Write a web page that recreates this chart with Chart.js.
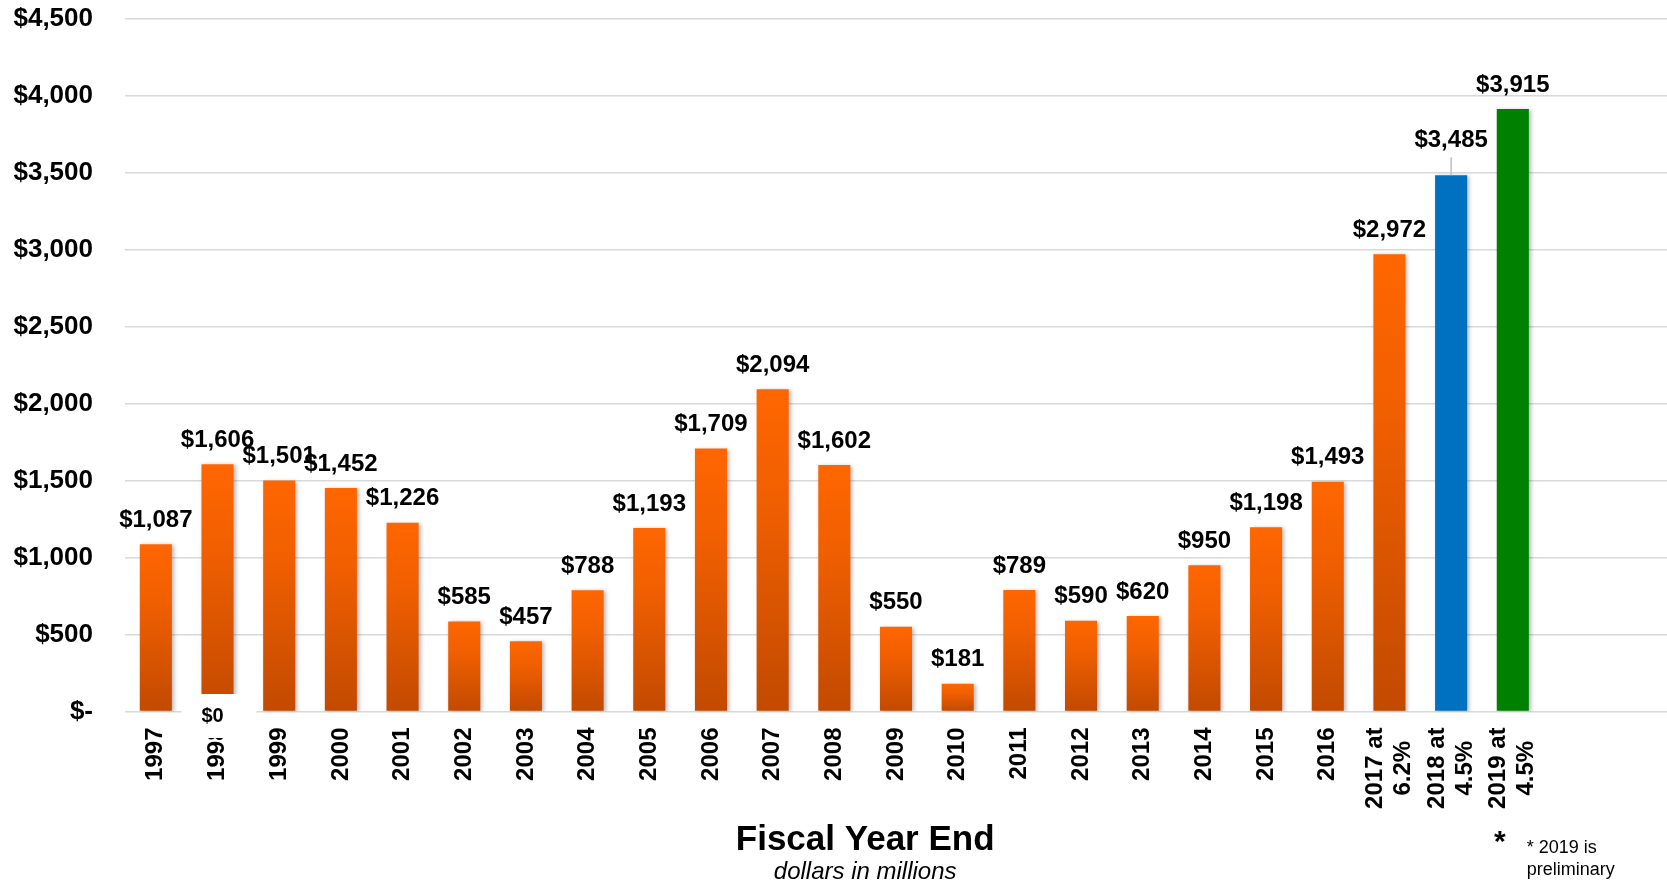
<!DOCTYPE html>
<html>
<head>
<meta charset="utf-8">
<title>Fiscal Year End</title>
<script src="https://cdn.jsdelivr.net/npm/chart.js@4.4.1/dist/chart.umd.min.js"></script>
<style>
    body { margin: 0; background: #fff; }
    canvas { display: block; }
</style>
</head>
<body>
<canvas id="fiscal" width="1667" height="882"></canvas>
<script>

var years = ['1997', '1998', '1999', '2000', '2001', '2002', '2003', '2004', '2005', '2006',
             '2007', '2008', '2009', '2010', '2011', '2012', '2013', '2014', '2015', '2016',
             ['2017 at', '6.2%'], ['2018 at', '4.5%'], ['2019 at', '4.5%'], '', ''];
var amounts = [1087, 1606, 1501, 1452, 1226, 585, 457, 788, 1193, 1709,
               2094, 1602, 550, 181, 789, 590, 620, 950, 1198, 1493,
               2972, 3485, 3915, null, null];
var yTicks = [0, 500, 1000, 1500, 2000, 2500, 3000, 3500, 4000, 4500];

var FONT = '"Liberation Sans", Arial, sans-serif';

function money(v){
    if (v === 0) {
        return '$-';
    }
    return '$' + v.toLocaleString('en-US');
}

function barFill(ctx){
    var i = ctx.dataIndex;
    if (i === 21) return '#0070C0';
    if (i === 22) return '#008000';
    var chart = ctx.chart;
    var y = chart.scales.y;
    if (!y || amounts[i] == null) return '#F05F00';
    var top = y.getPixelForValue(amounts[i]);
    var bottom = y.getPixelForValue(0);
    if (!isFinite(top) || !isFinite(bottom) || top === bottom) return '#F05F00';
    var g = chart.ctx.createLinearGradient(0, top, 0, bottom);
    g.addColorStop(0, '#FF6600');
    g.addColorStop(0.35, '#F05F00');
    g.addColorStop(1, '#C24A00');
    return g;
}

// soft shadow under the bars
var barShadow = {
    id: 'barShadow',
    beforeDatasetsDraw: function(chart){
        var c = chart.ctx;
        c.save();
        c.shadowColor = 'rgba(0,0,0,0.28)';
        c.shadowBlur = 4;
        c.shadowOffsetX = 2;
        c.shadowOffsetY = 1;
    },
    afterDatasetsDraw: function(chart){
        chart.ctx.restore();
    }
};

// value labels above each bar, 2018 label is lifted with a leader line
var valueLabels = {
    id: 'valueLabels',
    afterDatasetsDraw: function(chart){
        var c = chart.ctx;
        var meta = chart.getDatasetMeta(0);
        c.save();
        c.font = 'bold 24px ' + FONT;
        c.fillStyle = '#000';
        c.textAlign = 'center';
        c.textBaseline = 'middle';
        meta.data.forEach(function(bar, i){
            if (amounts[i] == null) return;
            var ly = bar.y - 24;
            if (i === 21) {
                ly -= 11;
                c.strokeStyle = '#bfbfbf';
                c.lineWidth = 1.5;
                c.beginPath();
                c.moveTo(bar.x, ly + 17);
                c.lineTo(bar.x, bar.y);
                c.stroke();
            }
            c.fillText(money(amounts[i]), bar.x, ly);
        });
        c.restore();
    }
};

// rotated year labels, wrapped lines centred on each other
function drawYearLabels(chart){
    var c = chart.ctx;
    var xs = chart.scales.x;
    var top = chart.chartArea.bottom + 16;
    var step = 28;
    c.save();
    c.font = 'bold 24px ' + FONT;
    c.fillStyle = '#000';
    c.textAlign = 'center';
    c.textBaseline = 'middle';
    years.forEach(function(label, i){
        var lines = Array.isArray(label) ? label : [label];
        if (!lines[0]) return;
        var widest = 0;
        lines.forEach(function(l){ widest = Math.max(widest, c.measureText(l).width); });
        var px = xs.getPixelForTick(i);
        lines.forEach(function(l, j){
            var lx = px - (lines.length - 1) * step / 2 + j * step;
            c.save();
            c.translate(lx, top + widest / 2);
            c.rotate(-Math.PI / 2);
            c.fillText(l, 0, 0);
            c.restore();
        });
    });
    c.restore();
}

var captions = {
    id: 'captions',
    afterDraw: function(chart){
        var c = chart.ctx;
        var meta = chart.getDatasetMeta(0);
        var zero = chart.scales.y.getPixelForValue(0);

        drawYearLabels(chart);

        // blank patch over the 1998 base with its $0 tag
        var b = meta.data[1];
        c.save();
        c.fillStyle = '#fff';
        c.fillRect(b.x - 36, zero - 17.5, 75, 44);
        c.fillStyle = '#000';
        c.font = 'bold 20px ' + FONT;
        c.textAlign = 'center';
        c.textBaseline = 'middle';
        c.fillText('$0', b.x - 5, zero + 5);

        var cx = chart.width * 0.519;
        c.textBaseline = 'alphabetic';
        c.font = 'bold 35px ' + FONT;
        c.fillText('Fiscal Year End', cx, 850);
        c.font = 'italic 24px ' + FONT;
        c.fillText('dollars in millions', cx, 879);

        var nx = meta.data[22].x;
        c.font = 'bold 30px ' + FONT;
        c.fillText('*', nx - 13, 851);
        c.textAlign = 'left';
        c.font = '18px ' + FONT;
        c.fillText('* 2019 is', nx + 14, 853);
        c.fillText('preliminary', nx + 14, 875);
        c.restore();
    }
};

var context = document.getElementById('fiscal').getContext('2d');
var chart = new Chart(context, {
    type: 'bar',
    data: {
        labels: years,
        datasets: [{
            data: amounts,
            backgroundColor: barFill,
            borderWidth: 0,
            categoryPercentage: 1,
            barPercentage: 0.52
        }]
    },
    plugins: [barShadow, valueLabels, captions],
    options: {
        responsive: false,
        animation: false,
        layout: {
            padding: { top: 19, right: 0, bottom: 0, left: 0 }
        },
        plugins: {
            legend: { display: false },
            tooltip: { enabled: false }
        },
        scales: {
            x: {
                grid: { display: false },
                border: { display: false },
                ticks: { display: false },
                afterFit: function(scale){
                    scale.height = 170.5;
                    scale.paddingLeft = 0;
                    scale.paddingRight = 0;
                }
            },
            y: {
                min: 0,
                max: 4500,
                afterBuildTicks: function(scale){
                    scale.ticks = yTicks.map(function(v){ return { value: v }; });
                },
                grid: { color: '#d9d9d9', lineWidth: 1.5, drawTicks: false },
                border: { display: false },
                ticks: {
                    padding: 32,
                    color: '#000',
                    font: { family: FONT, size: 26, weight: 'bold' },
                    callback: function(v){ return money(v); }
                },
                afterFit: function(scale){
                    scale.width = 125;
                    scale.paddingTop = 0;
                    scale.paddingBottom = 0;
                }
            }
        }
    }
});

</script>
</body>
</html>
